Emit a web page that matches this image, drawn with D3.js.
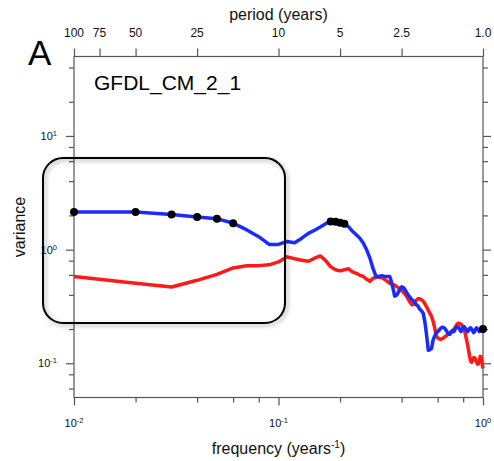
<!DOCTYPE html>
<html>
<head>
<meta charset="utf-8">
<script src="https://cdn.jsdelivr.net/npm/d3@7"></script>
<style>
  html, body { margin: 0; padding: 0; background: #fff; }
  svg { display: block; font-family: "Liberation Sans", Arial, Helvetica, sans-serif; }
</style>
</head>
<body>
<svg id="chart" width="494" height="461"></svg>
<script>
// ---------------- data ----------------
const freq = [0.01,0.02,0.03,0.04,0.05,0.06,0.07,0.08,0.09,0.10,
  0.11,0.12,0.13,0.14,0.15,0.16,0.17,0.18,0.19,0.20,
  0.21,0.22,0.23,0.24,0.25,0.26,0.27,0.28,0.29,0.30,
  0.31,0.32,0.33,0.34,0.35,0.36,0.37,0.38,0.39,0.40,
  0.41,0.42,0.43,0.44,0.45,0.46,0.47,0.48,0.49,0.50,
  0.51,0.52,0.53,0.54,0.55,0.56,0.57,0.58,0.59,0.60,
  0.61,0.62,0.63,0.64,0.65,0.66,0.67,0.68,0.69,0.70,
  0.71,0.72,0.73,0.74,0.75,0.76,0.77,0.78,0.79,0.80,
  0.81,0.82,0.83,0.84,0.85,0.86,0.87,0.88,0.89,0.90,
  0.91,0.92,0.93,0.94,0.95,0.96,0.97,0.98,0.99,1.00];

const blueVar = [2.14,2.14,2.04,1.94,1.87,1.71,1.49,1.30,1.11,1.11,
  1.18,1.15,1.26,1.39,1.48,1.58,1.69,1.77,1.76,1.72,
  1.69,1.59,1.45,1.35,1.26,1.14,0.99,0.84,0.68,0.58,
  0.58,0.59,0.58,0.58,0.58,0.49,0.39,0.40,0.44,0.47,
  0.46,0.43,0.40,0.38,0.36,0.35,0.33,0.32,0.30,0.29,
  0.275,0.23,0.176,0.13,0.132,0.135,0.16,0.173,0.184,0.19,
  0.195,0.203,0.207,0.207,0.203,0.195,0.187,0.18,0.18,0.187,
  0.195,0.19,0.199,0.207,0.209,0.207,0.197,0.19,0.199,0.207,
  0.209,0.203,0.195,0.19,0.195,0.203,0.205,0.2,0.193,0.186,
  0.19,0.2,0.205,0.2,0.195,0.19,0.195,0.203,0.195,0.2];

const redVar = [0.58,0.505,0.469,0.537,0.606,0.69,0.72,0.723,0.735,0.78,
  0.864,0.83,0.805,0.79,0.84,0.88,0.80,0.706,0.665,0.65,
  0.665,0.678,0.638,0.619,0.594,0.58,0.548,0.526,0.56,0.57,
  0.57,0.565,0.548,0.526,0.505,0.495,0.486,0.47,0.457,0.438,
  0.417,0.397,0.369,0.344,0.327,0.33,0.355,0.369,0.369,0.362,
  0.351,0.334,0.314,0.292,0.275,0.259,0.234,0.207,0.176,0.167,
  0.164,0.162,0.164,0.167,0.171,0.174,0.178,0.182,0.187,0.191,
  0.193,0.197,0.207,0.216,0.223,0.225,0.223,0.221,0.216,0.207,
  0.195,0.18,0.162,0.147,0.13,0.115,0.104,0.102,0.106,0.112,
  0.112,0.108,0.102,0.098,0.099,0.106,0.115,0.113,0.1,0.09];

// frequencies marked with black dots on the blue spectrum
const sigFreq = [0.01,0.02,0.03,0.04,0.05,0.06,0.18,0.19,0.20,0.21,1.00];

// axis ticks
const xMajor = [0.01, 0.1, 1];
const xMajorExp = ["-2", "-1", "0"];
const xMinor = [0.02,0.04,0.06,0.08,0.2,0.4,0.6,0.8];
const yMajor = [0.1, 1, 10];
const yMajorExp = ["-1", "0", "1"];
const yMinor = [0.06,0.08,0.2,0.4,0.6,0.8,2,4,6,8,20,40];
const periodLabels = ["100","75","50","25","10","5","2.5","1.0"];
const periodValues = [100,75,50,25,10,5,2.5,1.0];

const titleText = "GFDL_CM_2_1";
const panelLetter = "A";

// ---------------- layout ----------------
const plot = {left: 74, right: 483, top: 56.5, bottom: 397.5};
const svg = d3.select("#chart");

const x = d3.scaleLog().domain([0.01, 1]).range([plot.left, plot.right]);
const y = d3.scaleLog().domain([0.05, 50]).range([plot.bottom, plot.top]);

const axisColor = "#555";
const labelColor = "#111";

// frame
svg.append("rect")
  .attr("x", plot.left).attr("y", plot.top)
  .attr("width", plot.right - plot.left).attr("height", plot.bottom - plot.top)
  .attr("fill", "none").attr("stroke", axisColor).attr("stroke-width", 1.2);

function tickGroup(axisGen, tx, ty, values, size) {
  const g = svg.append("g").attr("transform", `translate(${tx},${ty})`)
    .call(axisGen.tickValues(values).tickSize(size).tickFormat(""));
  g.select(".domain").remove();
  g.selectAll(".tick line").attr("stroke", axisColor).attr("stroke-width", 1.2);
  return g;
}
tickGroup(d3.axisBottom(x), 0, plot.bottom, xMajor, 8);
tickGroup(d3.axisBottom(x), 0, plot.bottom, xMinor, 5);
tickGroup(d3.axisLeft(y), plot.left, 0, yMajor, 8);
tickGroup(d3.axisLeft(y), plot.left, 0, yMinor, 5);
tickGroup(d3.axisRight(y), plot.right, 0, yMajor, 8);
tickGroup(d3.axisRight(y), plot.right, 0, yMinor, 5);
tickGroup(d3.axisTop(x), 0, plot.top, periodValues.map(p => 1 / p), 8);

// bottom labels
xMajor.forEach((v, i) => {
  const t = svg.append("text").attr("x", x(v)).attr("y", 427)
    .attr("text-anchor", "middle").attr("font-size", 11).attr("fill", labelColor);
  t.append("tspan").text("10");
  t.append("tspan").attr("dy", -4).attr("font-size", 7.5).text(xMajorExp[i]);
});
// left labels
yMajor.forEach((v, i) => {
  const t = svg.append("text").attr("x", 57).attr("y", y(v) + 4)
    .attr("text-anchor", "end").attr("font-size", 11).attr("fill", labelColor);
  t.append("tspan").text("10");
  t.append("tspan").attr("dy", -4).attr("font-size", 7.5).text(yMajorExp[i]);
});
// top labels
periodValues.forEach((p, i) => {
  svg.append("text").attr("x", x(1 / p)).attr("y", 37)
    .attr("text-anchor", "middle").attr("font-size", 12).attr("fill", labelColor)
    .text(periodLabels[i]);
});

// axis titles
svg.append("text").attr("x", (plot.left + plot.right) / 2).attr("y", 20)
  .attr("text-anchor", "middle").attr("font-size", 16).attr("fill", labelColor)
  .text("period (years)");
const xt = svg.append("text").attr("x", (plot.left + plot.right) / 2).attr("y", 454)
  .attr("text-anchor", "middle").attr("font-size", 16).attr("fill", labelColor);
xt.append("tspan").text("frequency (years");
xt.append("tspan").attr("dy", -6).attr("font-size", 10).text("-1");
xt.append("tspan").attr("dy", 6).text(")");
svg.append("text")
  .attr("transform", `translate(25,${(plot.top + plot.bottom) / 2}) rotate(-90)`)
  .attr("text-anchor", "middle").attr("font-size", 16).attr("fill", labelColor)
  .text("variance");

// panel letter and model name
svg.append("text").attr("x", 28).attr("y", 65).attr("font-size", 35)
  .attr("fill", "#000").text(panelLetter);
svg.append("text").attr("x", 94).attr("y", 90).attr("font-size", 21)
  .attr("fill", "#000").text(titleText);

// ---------------- series ----------------
const line = d3.line().x(d => x(d[0])).y(d => y(d[1]));
const redPts = freq.map((f, i) => [f, redVar[i]]);
const bluePts = freq.map((f, i) => [f, blueVar[i]]);

svg.append("path").datum(redPts).attr("d", line)
  .attr("fill", "none").attr("stroke", "#ff1a1a").attr("stroke-width", 3.5)
  .attr("stroke-linejoin", "round");
svg.append("path").datum(bluePts).attr("d", line)
  .attr("fill", "none").attr("stroke", "#1a2bff").attr("stroke-width", 3.5)
  .attr("stroke-linejoin", "round");

svg.append("g").selectAll("circle")
  .data(sigFreq.map(f => [f, blueVar[freq.indexOf(f)]]))
  .join("circle")
  .attr("cx", d => x(d[0])).attr("cy", d => y(d[1])).attr("r", 4)
  .attr("fill", "#000");

// ---------------- highlight box ----------------
const defs = svg.append("defs");
const filt = defs.append("filter").attr("id", "shadow")
  .attr("x", "-10%").attr("y", "-10%").attr("width", "130%").attr("height", "130%");
filt.append("feDropShadow").attr("dx", 2).attr("dy", 2).attr("stdDeviation", 2)
  .attr("flood-color", "#000").attr("flood-opacity", 0.35);

svg.append("rect")
  .attr("x", 43).attr("y", 158).attr("width", 242).attr("height", 165)
  .attr("rx", 20).attr("ry", 20)
  .attr("fill", "none").attr("stroke", "#000").attr("stroke-width", 2)
  .attr("filter", "url(#shadow)");
</script>
</body>
</html>
